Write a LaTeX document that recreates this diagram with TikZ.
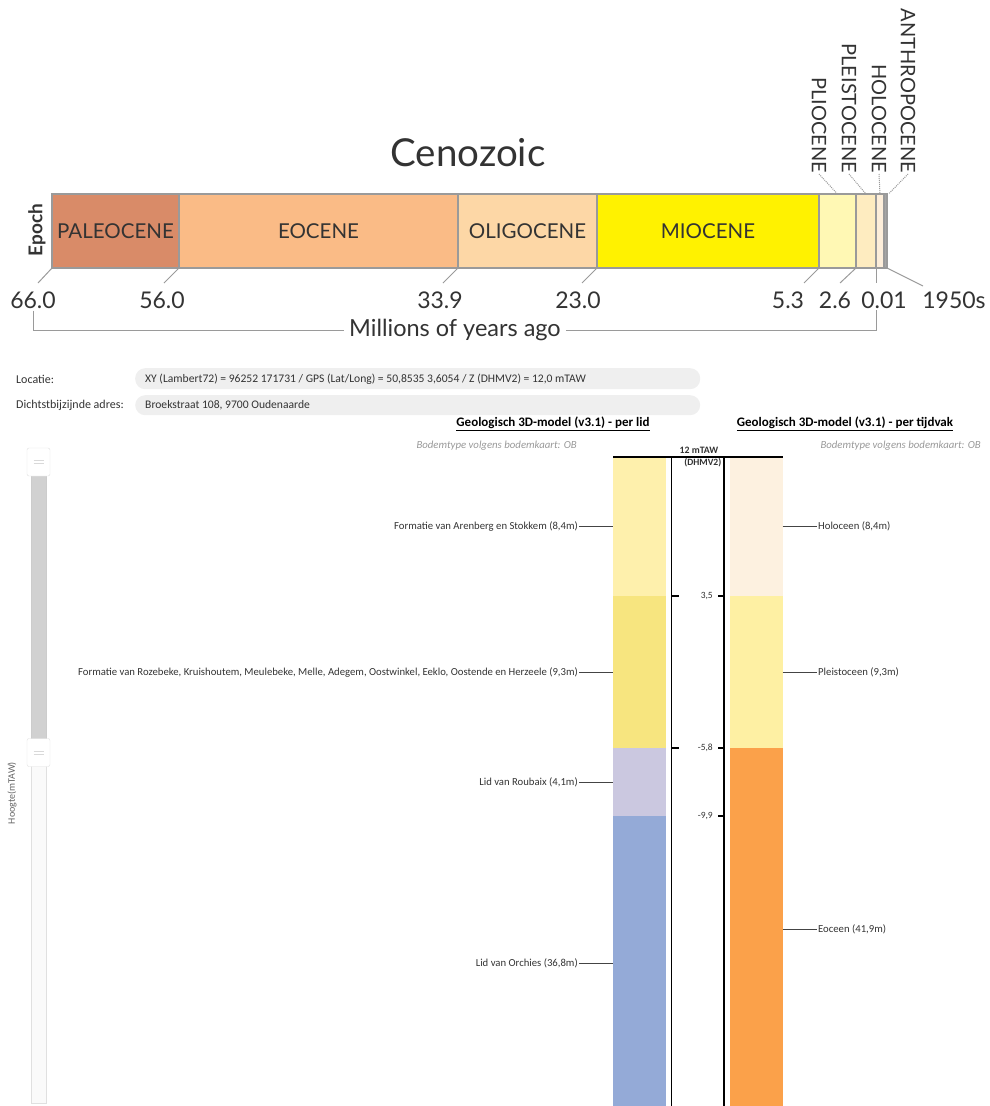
\documentclass[tikz,border=0pt]{standalone}
\usepackage{fontspec}
\setmainfont{Lato}
\newfontfamily\ui{Carlito}
\usetikzlibrary{calc}
\definecolor{txt}{HTML}{333333}
\definecolor{barline}{HTML}{9A9A9A}
\definecolor{cPaleo}{RGB}{217,139,104}
\definecolor{cEo}{RGB}{250,187,134}
\definecolor{cOli}{RGB}{253,215,166}
\definecolor{cMio}{RGB}{255,242,0}
\definecolor{cPlio}{RGB}{255,248,180}
\definecolor{cPleis}{RGB}{254,236,192}
\definecolor{cHolo}{RGB}{253,238,218}
\definecolor{cAnth}{RGB}{165,165,165}
\definecolor{cLa}{RGB}{254,240,172}
\definecolor{cLb}{RGB}{247,229,127}
\definecolor{cLc}{RGB}{203,200,224}
\definecolor{cLd}{RGB}{148,170,215}
\definecolor{cRa}{RGB}{253,241,224}
\definecolor{cRb}{RGB}{254,240,163}
\definecolor{cRc}{RGB}{251,161,74}
\definecolor{boxfill}{HTML}{EFEFEF}
\definecolor{conn}{HTML}{444444}
\tikzset{
  seg/.style={draw=barline, line width=1.5pt, inner sep=0pt, outer sep=0pt, anchor=north west,
    minimum height=74pt, text=txt, font=\fontsize{20.5}{22}\selectfont},
  vlbl/.style={rotate=-90, anchor=east, inner sep=1pt, text=txt, font=\fontsize{20}{22}\selectfont},
  tickln/.style={barline, line width=1pt},
  dotln/.style={barline, line width=1pt, densely dotted},
  num/.style={text=txt, inner sep=1pt, font=\fontsize{23}{25}\selectfont},
  layer/.style={inner sep=0pt, outer sep=0pt, anchor=north west, minimum width=52.5pt},
  sidelbl/.style={text=txt, inner sep=1pt, font=\ui\fontsize{10.7}{12}\selectfont},
  infolbl/.style={text=txt, inner sep=1pt, font=\ui\fontsize{12}{13}\selectfont},
  infotxt/.style={text=txt, inner sep=1pt, font=\ui\fontsize{11.6}{13}\selectfont},
  cline/.style={conn, line width=1pt},
  axis/.style={black, line width=1.3pt},
  small/.style={text=txt, inner sep=0pt, font=\ui\fontsize{9.5}{10}\selectfont},
  hdr/.style={text=black, inner sep=0pt, font=\ui\bfseries\fontsize{13}{14}\selectfont},
  bodem/.style={anchor=east, text=black!40, inner sep=0pt, font=\ui\itshape\fontsize{10.8}{12}\selectfont},
  infobox/.style={fill=boxfill, rounded corners=10pt, inner sep=0pt, anchor=north west, minimum width=565pt},
  handle/.style={fill=white, draw=black!12, rounded corners=2pt, inner sep=0pt, minimum width=23pt, minimum height=28pt},
}
\begin{document}
\begin{tikzpicture}[x=1pt,y=-1pt]
\useasboundingbox (0,0) rectangle (989,1106);
\clip (0,0) rectangle (989,1106);
% ---------------- Top: Cenozoic timeline ----------------
\node[text=txt, font=\fontsize{38.5}{40}\selectfont] (title) at (468,153) {Cenozoic};
\node[seg, fill=cPaleo, minimum width=127pt] (paleo) at (52,194) {PALEOCENE};
\node[seg, fill=cEo, minimum width=279pt] (eo) at (179,194) {EOCENE};
\node[seg, fill=cOli, minimum width=139pt] (oli) at (458,194) {OLIGOCENE};
\node[seg, fill=cMio, minimum width=222pt] (mio) at (597,194) {MIOCENE};
\node[seg, fill=cPlio, minimum width=37pt] (plio) at (819,194) {};
\node[seg, fill=cPleis, minimum width=20pt] (pleis) at (856,194) {};
\node[seg, fill=cHolo, minimum width=8pt] (holo) at (876,194) {};
\node[seg, fill=cAnth, minimum width=3pt] (anth) at (884,194) {};
\node[rotate=90, text=txt, font=\bfseries\fontsize{19}{21}\selectfont] (epoch) at (37,230) {Epoch};

\node[vlbl] (tplio) at (819,174) {PLIOCENE};
\node[vlbl] (tpleis) at (849,174) {PLEISTOCENE};
\node[vlbl] (tholo) at (879,174) {HOLOCENE};
\node[vlbl] (tanth) at (908,174) {ANTHROPOCENE};
\draw[dotln] (tplio.east) -- (plio.north);
\draw[dotln] (tpleis.east) -- (pleis.north);
\draw[dotln] (tholo.east) -- (holo.north);
\draw[dotln] (tanth.east) -- ([xshift=3pt]anth.north);

\node[num] (n66) at (33,300) {66.0};
\node[num] (n56) at (162,300) {56.0};
\node[num] (n339) at (440,300) {33.9};
\node[num] (n23) at (578,300) {23.0};
\node[num] (n53) at (788,300) {5.3};
\node[num] (n26) at (835,300) {2.6};
\node[num] (n001) at (884,300) {0.01};
\node[num] (n1950) at (954,300) {1950s};
\draw[tickln] (paleo.south west) -- ++(-14,15);
\draw[tickln] (eo.south west) -- ++(-15,15);
\draw[tickln] (oli.south west) -- ++(-15,15);
\draw[tickln] (mio.south west) -- ++(-15,15);
\draw[tickln] (plio.south west) -- ++(-15,15);
\draw[tickln] (pleis.south west) -- ++(-16,15);
\draw[tickln] (holo.south west) -- ++(0,15);
\draw[tickln] (anth.south east) -- ++(36,18);

\node[num, font=\fontsize{23.5}{25}\selectfont] (mya) at (455,330) {Millions of years ago};
\draw[tickln] (n66.south) ++(0,1) -- (n66.south |- mya.west) -- ([xshift=-4pt]mya.west);
\draw[tickln] ([xshift=4pt]mya.east) -- (holo.south west |- mya.east) -- (holo.south west |- n001.south);

% ---------------- Location info ----------------
\node[infolbl, anchor=west] (loclbl) at (15,379) {Locatie:};
\node[infobox, minimum height=21pt] (locbox) at (135,368) {};
\node[infotxt, anchor=west] (loctxt) at (144,379) {XY (Lambert72) = 96252 171731 / GPS (Lat/Long) = 50,8535 3,6054 / Z (DHMV2) = 12,0 mTAW};
\node[infolbl, anchor=west] (adrlbl) at (15,405) {Dichtstbijzijnde adres:};
\node[infobox, minimum height=20pt] (adrbox) at (135,395) {};
\node[infotxt, anchor=west] (adrtxt) at (144,405) {Broekstraat 108, 9700 Oudenaarde};

% ---------------- Headers ----------------
\node[hdr] (h1) at (553,424) {\underline{Geologisch 3D-model (v3.1) - per lid}};
\node[hdr] (h2) at (845,424) {\underline{Geologisch 3D-model (v3.1) - per tijdvak}};
\node[bodem] (b1) at (577,446) {Bodemtype volgens bodemkaart: OB};
\node[bodem] (b2) at (981,446) {Bodemtype volgens bodemkaart: OB};

% ---------------- Columns ----------------
\node[layer, fill=cLa, minimum height=139pt] (La) at (613,457) {};
\node[layer, fill=cLb, minimum height=152pt] (Lb) at (613,596) {};
\node[layer, fill=cLc, minimum height=68pt] (Lc) at (613,748) {};
\node[layer, fill=cLd, minimum height=294pt] (Ld) at (613,816) {};
\node[layer, fill=cRa, minimum height=139pt] (Ra) at (730,457) {};
\node[layer, fill=cRb, minimum height=152pt] (Rb) at (730,596) {};
\node[layer, fill=cRc, minimum height=362pt] (Rc) at (730,748) {};

\coordinate (axL) at (671.5,457);
\coordinate (axR) at (724,457);
\draw[axis] (La.north west) -- (Ra.north east);
\draw[axis] (axL) -- (axL |- 0,1110);
\draw[axis] (axR) -- (axR |- 0,1110);
\node[small, font=\ui\bfseries\fontsize{9.8}{10}\selectfont] (mtaw) at (699,450) {12 mTAW};
\node[small, font=\ui\bfseries\fontsize{9.6}{10}\selectfont, anchor=east] (dhmv) at (721.5,463) {(DHMV2)};
\draw[axis, line width=1.8pt] (axL |- Lb.north) -- ++(7,0);
\draw[axis, line width=1.8pt] (axL |- Lc.north) -- ++(7,0);
\draw[axis, line width=1.3pt] (axR |- Lb.north) -- ++(-6,0);
\draw[axis, line width=1.3pt] (axR |- Lc.north) -- ++(-6,0);
\draw[axis, line width=1.3pt] (axR |- Ld.north) -- ++(-6,0);
\node[small, anchor=east] (v35) at (713,596) {3,5};
\node[small, anchor=east] (v58) at (713,748) {-5,8};
\node[small, anchor=east] (v99) at (713,816) {-9,9};

% left labels
\node[sidelbl, anchor=east] (fa) at (579,526.5) {Formatie van Arenberg en Stokkem (8,4m)};
\node[sidelbl, anchor=east] (fb) at (579,672) {Formatie van Rozebeke, Kruishoutem, Meulebeke, Melle, Adegem, Oostwinkel, Eeklo, Oostende en Herzeele (9,3m)};
\node[sidelbl, anchor=east] (fc) at (579,782) {Lid van Roubaix (4,1m)};
\node[sidelbl, anchor=east] (fd) at (579,963) {Lid van Orchies (36,8m)};
\draw[cline] (fa.east) -- (La.west);
\draw[cline] (fb.east) -- (Lb.west);
\draw[cline] (fc.east) -- (Lc.west);
\draw[cline] (fd.east) -- (Ld.west);
% right labels
\node[sidelbl, anchor=west] (ra) at (817,526.5) {Holoceen (8,4m)};
\node[sidelbl, anchor=west] (rb) at (817,672) {Pleistoceen (9,3m)};
\node[sidelbl, anchor=west] (rc) at (817,929) {Eoceen (41,9m)};
\draw[cline] (Ra.east) -- (ra.west);
\draw[cline] (Rb.east) -- (rb.west);
\draw[cline] (Rc.east) -- (rc.west);

% ---------------- Slider ----------------
\node[draw=black!20, fill=black!18, inner sep=0pt, minimum width=15pt, minimum height=270pt, anchor=north west] (trackA) at (31,472) {};
\node[draw=black!12, fill=black!2, inner sep=0pt, minimum width=15pt, minimum height=345pt, anchor=north west] (trackB) at (31,758) {};
\node[handle] (hA) at (38.5,462) {};
\node[handle] (hB) at (38.5,752.5) {};
\draw[black!15, line width=0.8pt] ([xshift=-5pt,yshift=-1.5pt]hA.center) -- ++(10,0) ([xshift=-5pt,yshift=1.5pt]hA.center) -- ++(10,0);
\draw[black!15, line width=0.8pt] ([xshift=-5pt,yshift=-1.5pt]hB.center) -- ++(10,0) ([xshift=-5pt,yshift=1.5pt]hB.center) -- ++(10,0);
\node[rotate=90, text=black!60, inner sep=0pt, font=\ui\fontsize{10}{11}\selectfont] (hoogte) at (12,793) {Hoogte(mTAW)};
\end{tikzpicture}
\end{document}
